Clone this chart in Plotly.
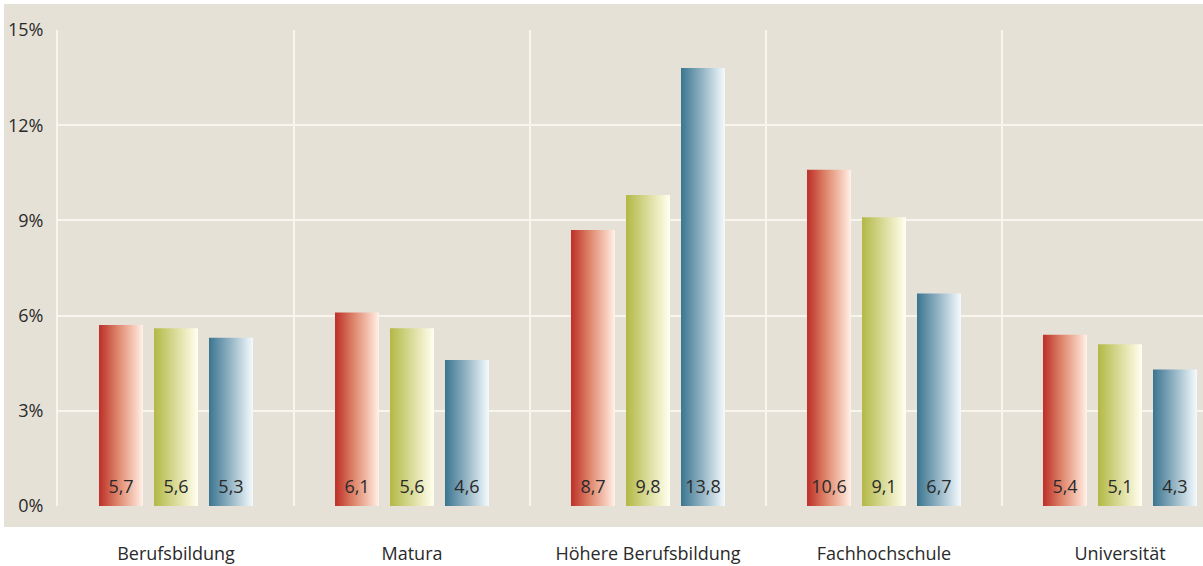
import plotly.graph_objects as go

categories = ["Berufsbildung", "Matura", "Höhere Berufsbildung", "Fachhochschule", "Universität"]
series_a = [5.7, 6.1, 8.7, 10.6, 5.4]
series_b = [5.6, 5.6, 9.8, 9.1, 5.1]
series_c = [5.3, 4.6, 13.8, 6.7, 4.3]
y_ticks = [0, 3, 6, 9, 12, 15]
y_ticklabels = ["0%", "3%", "6%", "9%", "12%", "15%"]

series = [series_a, series_b, series_c]
gradients = [
    [[0, "#bd2f27"], [0.45, "#e08a70"], [0.85, "#f9d3c3"], [1, "#fff3ec"]],
    [[0, "#b3b845"], [0.45, "#d6d892"], [0.85, "#f6f5d6"], [1, "#fffff2"]],
    [[0, "#3b7590"], [0.45, "#8dafc0"], [0.85, "#d9e7ee"], [1, "#f5fafc"]],
]
base_colors = ["#d0604a", "#cfd27a", "#6f9aad"]

STEP = 0.233
BAR_W = 0.1864
BG = "#e6e1d7"
GRID = "#f8f5ee"
FONT = "Open Sans"

fig = go.Figure()

for j, vals in enumerate(series):
    for i, v in enumerate(vals):
        xc = i + (j - 1) * STEP
        x0, x1 = xc - BAR_W / 2, xc + BAR_W / 2
        fig.add_trace(go.Scatter(
            x=[x0, x1, x1, x0, x0],
            y=[0, 0, v, v, 0],
            mode="lines",
            line=dict(width=0, color=base_colors[j]),
            fill="toself",
            fillcolor=base_colors[j],
            fillgradient=dict(type="horizontal", colorscale=gradients[j]),
            hoverinfo="skip",
            showlegend=False,
        ))
    fig.add_trace(go.Scatter(
        x=[i + (j - 1) * STEP for i in range(len(vals))],
        y=[0.55] * len(vals),
        mode="text",
        text=[f"{v:.1f}".replace(".", ",") for v in vals],
        textfont=dict(family=FONT, size=18, color="#2a2a2a"),
        textposition="middle center",
        hoverinfo="skip",
        showlegend=False,
    ))

W, H = 1203, 566
ml, mr, mt, mb = 58, 0, 30, 60
pw = W - ml - mr
ph = H - mt - mb
cat_px = 236.0
x_end = -0.5 + pw / cat_px

fig.add_shape(
    type="rect", xref="paper", yref="paper",
    x0=(4 - ml) / pw, x1=1.01,
    y0=-(527 - (H - mb)) / ph, y1=((H - mb) - 4) / ph,
    fillcolor=BG, line=dict(width=0), layer="below",
)

fig.update_layout(
    width=W, height=H,
    margin=dict(l=ml, r=mr, t=mt, b=mb, pad=0),
    paper_bgcolor="white",
    plot_bgcolor=BG,
    showlegend=False,
    font=dict(family=FONT, color="#2a2a2a"),
    xaxis=dict(
        range=[-0.5, x_end],
        tickvals=list(range(len(categories))),
        ticktext=categories,
        showgrid=False,
        zeroline=False,
        showline=False,
        ticks="",
        ticklabelstandoff=35,
        tickfont=dict(family=FONT, size=18, color="#2a2a2a"),
        minor=dict(
            tickvals=[k - 0.5 for k in range(len(categories))],
            showgrid=True, gridcolor=GRID, gridwidth=2, ticks="",
        ),
        fixedrange=True,
    ),
    yaxis=dict(
        range=[0, 15],
        tickvals=y_ticks,
        ticktext=y_ticklabels,
        showgrid=True,
        gridcolor=GRID,
        gridwidth=2,
        zeroline=False,
        showline=True,
        linecolor=GRID,
        linewidth=2,
        ticks="",
        ticklabelstandoff=9,
        tickfont=dict(family=FONT, size=18, color="#2a2a2a"),
        fixedrange=True,
    ),
)

fig.write_html("out.html")
